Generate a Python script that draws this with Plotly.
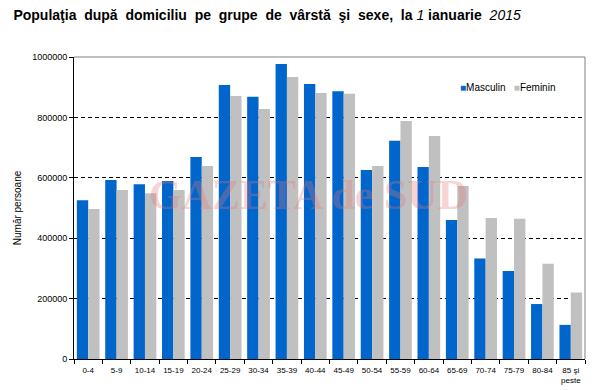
import plotly.graph_objects as go

categories = ["0-4", "5-9", "10-14", "15-19", "20-24", "25-29", "30-34", "35-39", "40-44",
              "45-49", "50-54", "55-59", "60-64", "65-69", "70-74", "75-79", "80-84", "85 şi<br>peste"]
masculin = [526000, 593000, 579000, 589000, 669000, 907000, 868000, 977000, 911000,
            887000, 626000, 723000, 636000, 460000, 333000, 291000, 182000, 113000]
feminin = [497000, 560000, 549000, 560000, 639000, 871000, 828000, 934000, 881000,
           878000, 639000, 788000, 738000, 573000, 467000, 464000, 315000, 220000]
series_names = ["Masculin", "Feminin"]
y_ticks = [0, 200000, 400000, 600000, 800000, 1000000]

BLUE = "#0066CC"
GRAY = "#C0C0C0"
FONT = "Liberation Sans, Arial, sans-serif"

fig = go.Figure()
fig.add_bar(x=categories, y=masculin, name=series_names[0], marker_color=BLUE, marker_line_width=0)
fig.add_bar(x=categories, y=feminin, name=series_names[1], marker_color=GRAY, marker_line_width=0)

legend_text = (f"<span style='color:{BLUE}'>■</span>{series_names[0]}   "
               f"<span style='color:{GRAY}'>■</span>{series_names[1]}")

# page body has an 8px margin, so the figure is sized/placed to compensate
fig.update_layout(
    width=602, height=382,
    margin=dict(l=66, r=25, t=49, b=31, autoexpand=False),
    paper_bgcolor="white", plot_bgcolor="white",
    barmode="group", bargap=0.2, bargroupgap=0,
    showlegend=False,
    font=dict(family=FONT, color="black"),
    title=dict(
        text="<b>Populaţia  după  domiciliu  pe  grupe  de  vârstă  şi  sexe,  la </b><i>1</i><b> ianuarie</b>  <i>2015</i>",
        x=0.009, xanchor="left", y=0.982, yanchor="middle",
        font=dict(size=14, family=FONT, color="black"),
    ),
    xaxis=dict(
        showline=True, linecolor="black", linewidth=1,
        ticks="outside", ticklen=4, tickcolor="black", tickson="boundaries",
        tickfont=dict(size=8, family=FONT), tickangle=0, ticklabelstandoff=3,
    ),
    yaxis=dict(
        range=[0, 1000000], tickvals=y_ticks, tickformat="d",
        showline=True, linecolor="black", linewidth=1,
        ticks="outside", ticklen=4, tickcolor="black",
        tickfont=dict(size=9, family=FONT),
        showgrid=True, gridcolor="black", gridwidth=1, griddash="4px,3px",
        zeroline=False,
        title=dict(text="Număr persoane", font=dict(size=10, family=FONT), standoff=8),
    ),
    shapes=[
        dict(type="line", xref="paper", yref="paper", x0=0, x1=1, y0=1, y1=1,
             line=dict(color="#808080", width=1), layer="above"),
        dict(type="line", xref="paper", yref="paper", x0=1, x1=1, y0=0, y1=1,
             line=dict(color="#808080", width=1), layer="above"),
    ],
    annotations=[
        dict(text=legend_text, xref="paper", yref="paper", x=0.752, y=0.9,
             xanchor="left", yanchor="middle", showarrow=False,
             font=dict(size=10, family=FONT, color="black")),
        dict(text="<b>GAZETA de SUD</b>", xref="paper", yref="paper", x=0.458, y=0.543,
             showarrow=False, font=dict(size=42, family="Liberation Serif, Times New Roman, serif",
                                        color="rgba(228,120,120,0.32)")),
    ],
)

fig.write_html("out.html")
